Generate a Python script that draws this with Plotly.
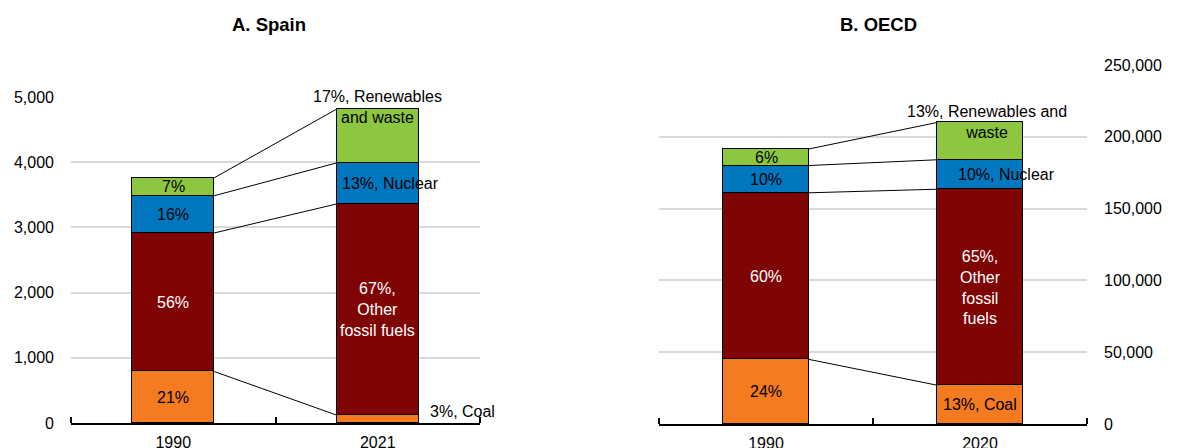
import plotly.graph_objects as go

# ---------------- data ----------------
spain_years = ["1990", "2021"]
spain_coal = [790, 120]
spain_other = [2125, 3240]
spain_nuclear = [570, 630]
spain_renew = [275, 826]

oecd_years = ["1990", "2020"]
oecd_coal = [45000, 27000]
oecd_other = [116000, 136500]
oecd_nuclear = [19000, 20500]
oecd_renew = [11500, 26000]

spain_labels = {
    "coal": ["21%", "3%, Coal"],
    "other": ["56%", "67%,<br>Other<br>fossil fuels"],
    "nuclear": ["16%", "13%, Nuclear"],
    "renew": ["7%", "17%, Renewables<br>and waste"],
}
oecd_labels = {
    "coal": ["24%", "13%, Coal"],
    "other": ["60%", "65%,<br>Other<br>fossil<br>fuels"],
    "nuclear": ["10%", "10%, Nuclear"],
    "renew": ["6%", "13%, Renewables and<br>waste"],
}

spain_ticks = [0, 1000, 2000, 3000, 4000, 5000]
oecd_ticks = [0, 50000, 100000, 150000, 200000, 250000]

COLORS = {"coal": "#F47B20", "other": "#7F0505", "nuclear": "#0077BE", "renew": "#8DC63F"}
TEXTCOL = {"coal": "black", "other": "white", "nuclear": "black", "renew": "black"}
FONT = "Liberation Sans, Arial, sans-serif"
FS = 16
BW = 0.4

# page body has an 8px margin: figure occupies (8,8)-(1193,448)
OFF = 8
W, H = 1193 - OFF, 448 - OFF


def PX(x):
    return (x - OFF) / W


def PY(y):
    return 1 - (y - OFF) / H


fig = go.Figure()
annotations = []


def add_panel(xa, ya, series, labels, special):
    keys = ["coal", "other", "nuclear", "renew"]
    xs = [0, 1]
    cum = [[0, 0]]
    for k in keys:
        fig.add_trace(go.Bar(x=xs, y=series[k], width=BW, marker=dict(color=COLORS[k], line=dict(color="black", width=1)),
                             xaxis=xa, yaxis=ya, showlegend=False, hoverinfo="skip"))
        cum.append([cum[-1][i] + series[k][i] for i in range(2)])
    # connector lines between tops of each segment
    for level in cum[1:]:
        fig.add_trace(go.Scatter(x=[BW / 2, 1 - BW / 2], y=level, mode="lines", line=dict(color="black", width=1),
                                 xaxis=xa, yaxis=ya, showlegend=False, hoverinfo="skip"))
    # labels
    for j, k in enumerate(keys):
        for i in range(2):
            mid = (cum[j][i] + cum[j + 1][i]) / 2
            ann = dict(x=i, y=mid, xref=xa, yref=ya, text=labels[k][i], showarrow=False,
                       font=dict(family=FONT, size=FS, color=TEXTCOL[k]), xanchor="center", yanchor="middle")
            if (k, i) in special:
                ann.update(special[(k, i)](cum, i))
            annotations.append(ann)


add_panel("x", "y",
          dict(coal=spain_coal, other=spain_other, nuclear=spain_nuclear, renew=spain_renew),
          spain_labels,
          {
              ("renew", 1): lambda cum, i: dict(y=cum[4][i], yshift=2),
              ("nuclear", 1): lambda cum, i: dict(xshift=13),
              ("coal", 1): lambda cum, i: dict(x=i + BW / 2, xanchor="left", xshift=9, yshift=8),
          })
add_panel("x2", "y2",
          dict(coal=oecd_coal, other=oecd_other, nuclear=oecd_nuclear, renew=oecd_renew),
          oecd_labels,
          {
              ("renew", 1): lambda cum, i: dict(y=cum[4][i], xshift=7),
              ("nuclear", 1): lambda cum, i: dict(xshift=26),
          })

annotations.append(dict(x=PX(269), y=PY(24), xref="paper", yref="paper", text="<b>A. Spain</b>",
                        showarrow=False, font=dict(family=FONT, size=18.5, color="black"), xanchor="center", yanchor="middle"))
annotations.append(dict(x=PX(878), y=PY(24), xref="paper", yref="paper", text="<b>B. OECD</b>",
                        showarrow=False, font=dict(family=FONT, size=18.5, color="black"), xanchor="center", yanchor="middle"))

xcommon = dict(range=[-0.5, 1.5], tickmode="array", tickvals=[0, 1], ticks="", showgrid=False, zeroline=False,
               showline=True, linecolor="black", linewidth=2, ticklabelstandoff=4, automargin=False,
               tickfont=dict(family=FONT, size=FS, color="black"),
               minor=dict(tickmode="array", tickvals=[-0.5, 0.5, 1.5], ticks="inside", ticklen=6, tickcolor="black",
                          tickwidth=1.5, showgrid=False))
ycommon = dict(showgrid=True, gridcolor="#D9D9D9", gridwidth=1.5, zeroline=False, showline=False, ticks="",
               automargin=False,
               tickfont=dict(family=FONT, size=FS, color="black"), tickformat=",", tickmode="array")

fig.update_layout(
    template="none",
    width=W, height=H, margin=dict(l=0, r=0, t=0, b=0, autoexpand=False),
    plot_bgcolor="white", paper_bgcolor="white", barmode="stack", bargap=0,
    xaxis=dict(domain=[PX(71), PX(480)], ticktext=spain_years, anchor="y", **xcommon),
    yaxis=dict(domain=[PY(423), PY(97)], range=[0, 5000], tickvals=spain_ticks, anchor="x",
               side="left", ticklabelstandoff=16, **ycommon),
    xaxis2=dict(domain=[PX(659), PX(1087)], ticktext=oecd_years, anchor="y2", **xcommon),
    yaxis2=dict(domain=[PY(424), PY(65)], range=[0, 250000], tickvals=oecd_ticks, anchor="x2",
                side="right", ticklabelstandoff=16, **ycommon),
    annotations=annotations,
)

fig.write_html("out.html")
